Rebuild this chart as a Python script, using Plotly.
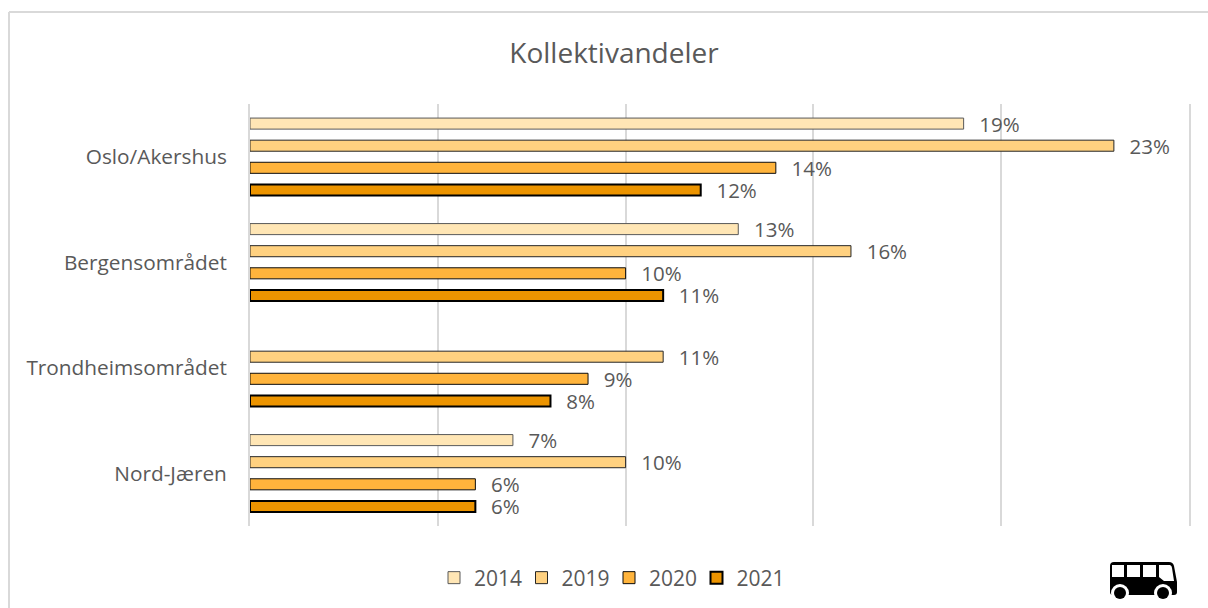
import plotly.graph_objects as go

W, H = 1208, 608
L, R, T, B = 250, 1189, 104, 526

categories = ["Oslo/Akershus", "Bergensområdet", "Trondheimsområdet", "Nord-Jæren"]
v2014 = [19, 13, None, 7]
v2019 = [23, 16, 11, 10]
v2020 = [14, 10, 9, 6]
v2021 = [12, 11, 8, 6]
series = [("2014", v2014, "#FFE6B5", "#595959", 1),
          ("2019", v2019, "#FFD180", "#262626", 1),
          ("2020", v2020, "#FFB43C", "#0D0D0D", 1),
          ("2021", v2021, "#EC9400", "#000000", 2)]
FONT = "Open Sans"
GREY = "#595959"
FS = 20.5


def px(x):
    return (x - L) / (R - L)


def py(y):
    return (B - y) / (B - T)


def path(cmds):
    out = []
    for c in cmds:
        if c[0] == "Z":
            out.append("Z")
        else:
            nums = c[1:]
            pairs = [f"{px(nums[i]):.5f},{py(nums[i + 1]):.5f}" for i in range(0, len(nums), 2)]
            out.append(c[0] + " ".join(pairs))
    return " ".join(out)


def pshape(cmds, fill):
    return dict(type="path", xref="paper", yref="paper", path=path(cmds), fillcolor=fill, line=dict(width=0))


def circle(cx, cy, r, fill):
    return dict(type="circle", xref="paper", yref="paper", x0=px(cx - r), x1=px(cx + r),
                y0=py(cy + r), y1=py(cy - r), fillcolor=fill, line=dict(width=0))


fig = go.Figure()
for name, vals, fill, line, lw in series:
    fig.add_bar(name=name, y=categories, x=[v / 100 if v is not None else None for v in vals], orientation="h",
                marker=dict(color=fill, line=dict(color=line, width=lw)),
                text=[f"\u00a0\u00a0\u200a{v}%" if v is not None else "" for v in vals],
                textposition="outside", cliponaxis=False, constraintext="none", hoverinfo="skip",
                textfont=dict(family=FONT, size=FS, color=GREY))

frame = dict(color="#D9D9D9", width=2)
shapes = [
    dict(type="line", xref="paper", yref="paper", x0=px(9), x1=px(W + 5), y0=py(12), y1=py(12), line=frame),
    dict(type="line", xref="paper", yref="paper", x0=px(9), x1=px(9), y0=py(12), y1=py(H + 5), line=frame),
    # bus pictogram
    pshape([("M", 1110, 566), ("Q", 1110, 562, 1114, 562), ("L", 1169, 562), ("Q", 1173, 562, 1174, 566),
            ("L", 1177, 582), ("L", 1177, 592), ("Q", 1177, 595, 1174, 595), ("L", 1113, 595),
            ("Q", 1110, 595, 1110, 592), ("Z",)], "#000000"),
    pshape([("M", 1159, 565), ("L", 1170, 565), ("Q", 1172, 566, 1172, 568), ("L", 1174, 581), ("L", 1164, 581),
            ("L", 1159, 577), ("Z",)], "#FFFFFF"),
]
for x0, x1 in [(1112, 1124), (1127, 1140), (1143, 1156)]:
    shapes.append(pshape([("M", x0, 565), ("L", x1, 565), ("L", x1, 577), ("L", x0, 577), ("Z",)], "#FFFFFF"))
for cx in (1120, 1163):
    shapes.append(circle(cx, 593, 9, "#FFFFFF"))
    shapes.append(circle(cx, 593, 6, "#000000"))

fig.update_layout(
    width=W, height=H, barmode="group", bargap=0.162, bargroupgap=0.5,
    paper_bgcolor="white", plot_bgcolor="white",
    margin=dict(l=L, r=W - R, t=T, b=H - B, autoexpand=False),
    title=dict(text="Kollektivandeler", x=614 / W, xanchor="center", y=1 - 53 / H, yanchor="middle",
               font=dict(family=FONT, size=28, color=GREY)),
    xaxis=dict(range=[0, 0.25], dtick=0.05, showticklabels=False, showgrid=True, gridcolor="#D9D9D9",
               gridwidth=2, zeroline=False, showline=False, ticks=""),
    yaxis=dict(autorange="reversed", categoryorder="array", categoryarray=categories, showline=True, mirror=True,
               linecolor="#D9D9D9", linewidth=2, ticks="", ticklen=0,
               tickfont=dict(family=FONT, size=20.8, color=GREY), ticklabelstandoff=17),
    legend=dict(orientation="h", x=px(434), xanchor="left", y=py(578), yanchor="middle",
                font=dict(family=FONT, size=21, color=GREY), itemwidth=30, traceorder="normal",
                entrywidth=42.5, entrywidthmode="pixels"),
    shapes=shapes,
)
fig.write_html("out.html", post_script="document.body.style.margin='0';", config=dict(displayModeBar=False))
